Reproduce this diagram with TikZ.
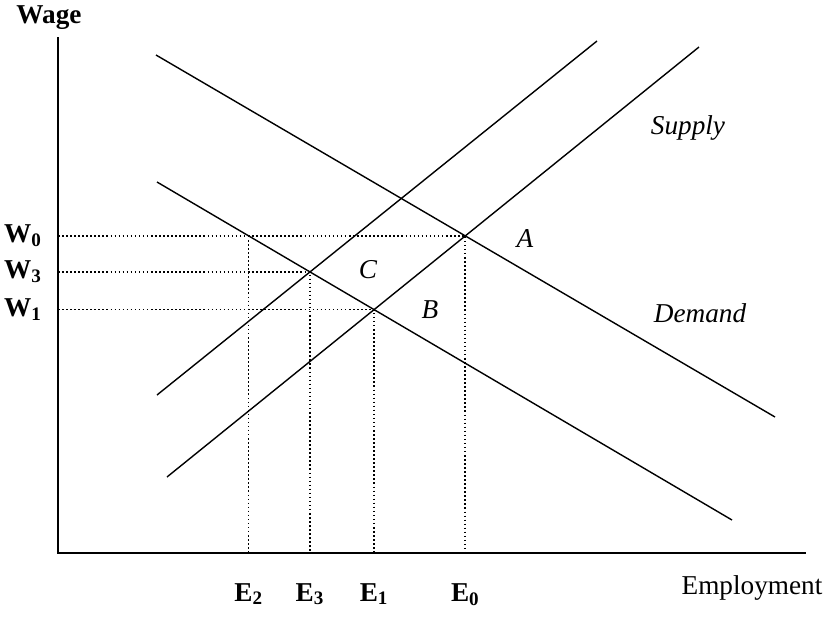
\documentclass[tikz,border=0pt]{standalone}
\usepackage{fontspec}
\setmainfont{Liberation Serif}
\usetikzlibrary{positioning, calc}
\tikzset{
    font=\fontsize{15.5}{18}\selectfont,
    axis_line/.style={
        line width=0.9pt,
        line cap=butt
    },
    curve_line/.style={
        line width=0.8pt
    },
    guide_line/.style={
        line width=0.95pt,
        dash pattern=on 0.9pt off 1.4pt
    },
    tick_label/.style={
        font=\fontsize{15.5}{18}\selectfont\bfseries,
        inner sep=1pt
    },
    curve_label/.style={
        font=\fontsize{15.5}{18}\selectfont\itshape,
        inner sep=1pt
    }
}

\begin{document}
\begin{tikzpicture}[x=0.02cm, y=-0.02cm]
\useasboundingbox (0,0) rectangle (836,620);

% --- Axes ---
\coordinate (O) at (58,553);
\coordinate (AxisTop) at (58,37);
\coordinate (AxisEnd) at (806,553);
\draw[axis_line] (AxisTop) -- (O) -- (AxisEnd);
\node[tick_label] (WageLbl) at (49,18) {Wage};
\node[inner sep=1pt] (EmpLbl) at (752,588) {Employment};

% --- Curves ---
\coordinate (DemHiS) at (156,55);
\coordinate (DemHiE) at (775,417);
\coordinate (DemLoS) at (157,182);
\coordinate (DemLoE) at (732,520);
\coordinate (SupHiS) at (157,395);
\coordinate (SupHiE) at (597,41);
\coordinate (SupLoS) at (167,477);
\coordinate (SupLoE) at (699,47);
\draw[curve_line] (DemHiS) -- (DemHiE);
\draw[curve_line] (DemLoS) -- (DemLoE);
\draw[curve_line] (SupHiS) -- (SupHiE);
\draw[curve_line] (SupLoS) -- (SupLoE);

% --- Equilibria ---
\coordinate (PtA) at (intersection of DemHiS--DemHiE and SupLoS--SupLoE);
\coordinate (PtB) at (intersection of DemLoS--DemLoE and SupLoS--SupLoE);
\coordinate (PtC) at (intersection of DemLoS--DemLoE and SupHiS--SupHiE);
\coordinate (WZero) at (PtA -| O);
\coordinate (PtE2) at (intersection of DemLoS--DemLoE and PtA--WZero);

% --- Guides ---
\draw[guide_line] (WZero) -- (PtA) -- (PtA |- O);
\draw[guide_line] (PtC -| O) -- (PtC) -- (PtC |- O);
\draw[guide_line] (PtB -| O) -- (PtB) -- (PtB |- O);
\draw[guide_line] (PtE2) -- (PtE2 |- O);

% --- Tick labels ---
\node[tick_label, left=8pt of WZero] (W0Lbl) {W\textsubscript{0}};
\node[tick_label, left=8pt of PtC -| O] (W3Lbl) {W\textsubscript{3}};
\node[tick_label, left=8pt of PtB -| O] (W1Lbl) {W\textsubscript{1}};
\node[tick_label, below=16pt of PtA |- O] (E0Lbl) {E\textsubscript{0}};
\node[tick_label, below=16pt of PtC |- O] (E3Lbl) {E\textsubscript{3}};
\node[tick_label, below=16pt of PtB |- O] (E1Lbl) {E\textsubscript{1}};
\node[tick_label, below=16pt of PtE2 |- O] (E2Lbl) {E\textsubscript{2}};

% --- Curve labels ---
\node[curve_label] (SupLbl) at (688,128) {Supply};
\node[curve_label] (DemLbl) at (700,313) {Demand};
\node[curve_label] (ALbl) at (525,239) {A};
\node[curve_label] (BLbl) at (430,310) {B};
\node[curve_label] (CLbl) at (368,270) {C};

\end{tikzpicture}
\end{document}
